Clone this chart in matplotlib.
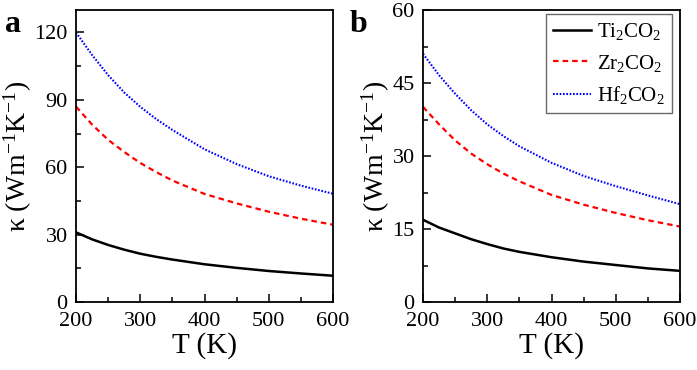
import numpy as np
import matplotlib
matplotlib.use('Agg')
import matplotlib.pyplot as plt
from matplotlib.ticker import MultipleLocator

plt.rcParams['font.family'] = ['Liberation Serif', 'DejaVu Serif']
plt.rcParams['mathtext.fontset'] = 'custom'
plt.rcParams['mathtext.rm'] = 'Liberation Serif'
plt.rcParams['mathtext.it'] = 'Liberation Serif:italic'

# temperature (K)
T = [200, 225, 250, 275, 300, 325, 350, 400, 450, 500, 550, 600]

# panel a
ti_a = [31.0, 27.9, 25.4, 23.3, 21.5, 20.1, 18.9, 16.8, 15.2, 13.8, 12.7, 11.7]
zr_a = [87.0, 79.0, 72.2, 66.8, 61.9, 57.8, 54.1, 48.1, 43.9, 40.2, 37.1, 34.4]
hf_a = [120.0, 110.0, 101.0, 93.3, 86.9, 81.4, 76.6, 68.0, 61.4, 56.0, 51.8, 48.2]

# panel b
ti_b = [16.9, 15.3, 14.1, 12.9, 11.9, 11.0, 10.3, 9.2, 8.3, 7.6, 6.9, 6.4]
zr_b = [40.1, 36.5, 33.2, 30.5, 28.3, 26.4, 24.8, 22.0, 20.0, 18.3, 16.8, 15.5]
hf_b = [51.0, 46.6, 42.8, 39.4, 36.5, 34.1, 32.0, 28.6, 25.9, 23.8, 21.9, 20.1]

labels = [r'Ti$_2$CO$_2$', r'Zr$_2$CO$_2$', r'Hf$_2$CO$_2$']

fig = plt.figure(figsize=(6.97, 3.70), dpi=100)
ax1 = fig.add_axes([76/697, 68/370, 257/697, 292/370])
ax2 = fig.add_axes([423/697, 68/370, 257/697, 292/370])

for ax, ti, zr, hf, ymax, ystep in [(ax1, ti_a, zr_a, hf_a, 130, 30),
                                    (ax2, ti_b, zr_b, hf_b, 60, 15)]:
    ax.plot(T, ti, '-', color='black', linewidth=1.8, label=labels[0])
    ax.plot(T, zr, '--', color='red', linewidth=1.6, dashes=(2.5, 1.8), label=labels[1])
    ax.plot(T, hf, ':', color='blue', linewidth=1.5, dashes=(0.8, 0.8), label=labels[2])
    ax.set_xlim(200, 600)
    ax.set_ylim(0, ymax)
    ax.xaxis.set_major_locator(MultipleLocator(100))
    ax.xaxis.set_minor_locator(MultipleLocator(50))
    ax.yaxis.set_major_locator(MultipleLocator(ystep))
    ax.yaxis.set_minor_locator(MultipleLocator(ystep / 2))
    ax.tick_params(which='both', direction='in', labelsize=16, width=1.1)
    ax.tick_params(which='major', length=6)
    ax.tick_params(which='minor', length=3.5)
    ax.tick_params(axis='x', which='major', pad=7)
    ax.tick_params(axis='y', which='major', pad=6)
    for s in ax.spines.values():
        s.set_linewidth(1.3)
    ax.set_xlabel('T (K)', fontsize=21, labelpad=1)
    ax.set_ylabel(r'κ (Wm$^{-1}$K$^{-1}$)', fontsize=20, labelpad=0)

ax1.set_yticks([0, 30, 60, 90, 120])

fig.text(5/697, 1 - 32/370, 'a', fontsize=23, fontweight='bold')
fig.text(350/697, 1 - 32/370, 'b', fontsize=23, fontweight='bold')

leg = ax2.legend(loc='upper right', bbox_to_anchor=(1 - 8/257, 1 - 4/292),
                 borderaxespad=0, fontsize=15, frameon=True, fancybox=False,
                 edgecolor='#444444', handlelength=1.8, labelspacing=0.5,
                 borderpad=0.35, handletextpad=0.3)
leg.get_frame().set_linewidth(1.0)

fig.savefig('out.png', dpi=100)
